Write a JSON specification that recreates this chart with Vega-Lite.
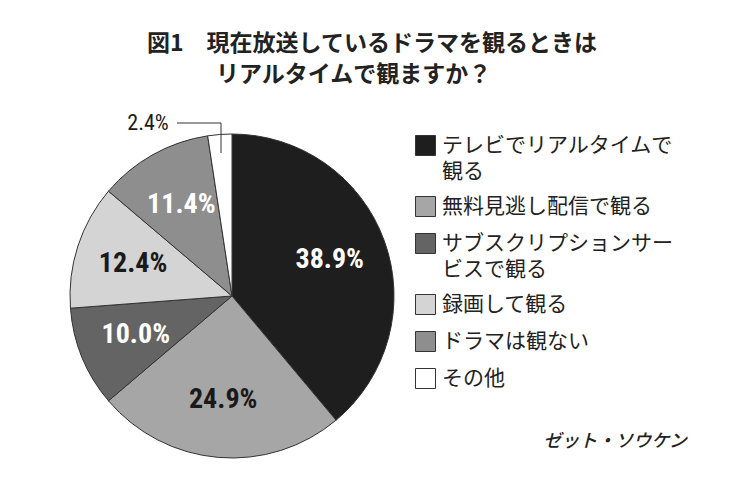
{
  "$schema": "https://vega.github.io/schema/vega-lite/v6.json",
  "width": 464,
  "height": 330,
  "autosize": {"type": "none"},
  "padding": {"left": 0, "top": 131, "right": 280, "bottom": 38},
  "background": "white",
  "config": {"view": {"stroke": null}, "style": {"guide-label": {"lineHeight": 26}}},
  "title": {
    "text": ["図1　現在放送しているドラマを観るときは", "\u200b　　　リアルタイムで観ますか？"],
    "anchor": "start",
    "frame": "group",
    "dx": 147,
    "offset": 25,
    "fontSize": 23,
    "fontWeight": "bold",
    "font": "Noto Sans CJK JP",
    "color": "#222222",
    "lineHeight": 31
  },
  "datasets": {
    "slices": [
      {"category": "テレビでリアルタイムで|観る", "value": 38.9, "order": 1, "label": "38.9%"},
      {"category": "無料見逃し配信で観る", "value": 24.9, "order": 2, "label": "24.9%"},
      {"category": "サブスクリプションサー|ビスで観る", "value": 10.0, "order": 3, "label": "10.0%"},
      {"category": "録画して観る", "value": 12.4, "order": 4, "label": "12.4%"},
      {"category": "ドラマは観ない", "value": 11.4, "order": 5, "label": "11.4%"},
      {"category": "その他", "value": 2.4, "order": 6, "label": "2.4%"}
    ],
    "leader": [
      {"px": -55, "py": 173, "seq": 1},
      {"px": -11, "py": 173, "seq": 2},
      {"px": -11, "py": 143, "seq": 3}
    ],
    "notes": [
      {"px": -84, "py": 173, "text": "2.4%"}
    ],
    "logo": [
      {"px": 383, "py": -146, "text": "ゼット・ソウケン"}
    ]
  },
  "layer": [
    {
      "data": {"name": "slices"},
      "mark": {"type": "arc", "outerRadius": 162, "stroke": "#333333", "strokeWidth": 1},
      "encoding": {
        "theta": {"field": "value", "type": "quantitative", "stack": true},
        "order": {"field": "order", "type": "quantitative"},
        "fill": {
          "field": "category",
          "type": "nominal",
          "scale": {
            "domain": ["テレビでリアルタイムで|観る", "無料見逃し配信で観る", "サブスクリプションサー|ビスで観る", "録画して観る", "ドラマは観ない", "その他"],
            "range": ["#1e1e1e", "#a6a6a6", "#646464", "#d4d4d4", "#8e8e8e", "#ffffff"]
          },
          "legend": {
            "orient": "none",
            "legendX": 415,
            "legendY": 4,
            "title": null,
            "symbolType": "square",
            "symbolSize": 400,
            "symbolStrokeColor": "#333333",
            "symbolStrokeWidth": 1,
            "symbolOpacity": 1,
            "labelFont": "Noto Sans CJK JP",
            "labelFontSize": 21,
            "labelColor": "#222222",
            "labelExpr": "split(datum.label, '|')",
            "labelLimit": 400,
            "labelOffset": 6,
            "rowPadding": 12,
            "encode": {"labels": {"update": {"lineHeight": {"value": 26}}}}
          }
        }
      }
    },
    {
      "data": {"name": "slices"},
      "transform": [{"filter": "datum.value > 5"}],
      "mark": {"type": "text", "radius": 104, "font": "Liberation Sans Narrow, Roboto Condensed, Roboto, sans-serif", "fontSize": 28, "fontWeight": "bold"},
      "encoding": {
        "theta": {"field": "value", "type": "quantitative", "stack": true},
        "order": {"field": "order", "type": "quantitative"},
        "text": {"field": "label"},
        "color": {
          "condition": {"test": "datum.order == 1 || datum.order == 3 || datum.order == 5", "value": "#ffffff"},
          "value": "#1a1a1a"
        }
      }
    },
    {
      "data": {"name": "leader"},
      "mark": {"type": "line", "stroke": "#333333", "strokeWidth": 1},
      "encoding": {
        "x": {"field": "px", "type": "quantitative", "scale": {"domain": [-232, 232], "nice": false, "zero": false}, "axis": null},
        "y": {"field": "py", "type": "quantitative", "scale": {"domain": [-165, 165], "nice": false, "zero": false}, "axis": null},
        "order": {"field": "seq", "type": "quantitative"}
      }
    },
    {
      "data": {"name": "notes"},
      "mark": {"type": "text", "font": "Liberation Sans Narrow, Roboto Condensed, Roboto, sans-serif", "fontSize": 22, "color": "#1a1a1a"},
      "encoding": {
        "x": {"field": "px", "type": "quantitative", "scale": {"domain": [-232, 232], "nice": false, "zero": false}, "axis": null},
        "y": {"field": "py", "type": "quantitative", "scale": {"domain": [-165, 165], "nice": false, "zero": false}, "axis": null},
        "text": {"field": "text"}
      }
    },
    {
      "data": {"name": "logo"},
      "mark": {"type": "text", "font": "Noto Sans CJK JP", "fontSize": 18, "fontStyle": "italic", "fontWeight": 500, "color": "#222222"},
      "encoding": {
        "x": {"field": "px", "type": "quantitative", "scale": {"domain": [-232, 232], "nice": false, "zero": false}, "axis": null},
        "y": {"field": "py", "type": "quantitative", "scale": {"domain": [-165, 165], "nice": false, "zero": false}, "axis": null},
        "text": {"field": "text"}
      }
    }
  ]
}
